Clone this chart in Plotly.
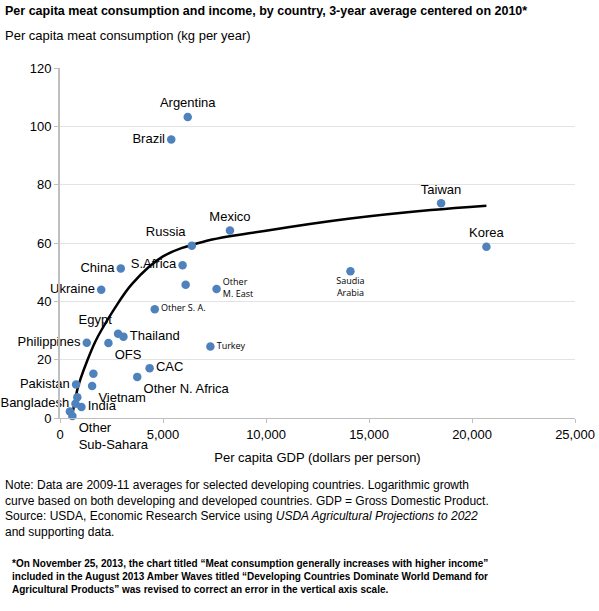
import plotly.graph_objects as go

# country scatter data (GDP per capita, meat kg per capita)
countries = ["Argentina", "Brazil", "Taiwan", "Korea", "Mexico", "Russia", "China",
             "S.Africa", "", "Other<br>M. East", "Saudia<br>Arabia", "Ukraine",
             "Other S. A.", "Egypt", "Thailand", "Philippines", "OFS", "Turkey", "CAC",
             "Other N. Africa", "", "Vietnam", "Pakistan", "", "Bangladesh", "India",
             "", "Other<br>Sub-Sahara"]
gdp = [6200, 5400, 18500, 20700, 8250, 6400, 2950, 5950, 6100, 7600, 14100, 2000,
       4600, 2820, 3080, 1300, 2350, 7300, 4350, 3750, 1620, 1560, 780, 840, 750,
       1040, 480, 600]
meat = [103.2, 95.5, 73.6, 58.7, 64.3, 59.1, 51.3, 52.4, 45.7, 44.2, 50.3, 44.0,
        37.3, 28.9, 27.9, 25.8, 25.7, 24.5, 17.1, 14.1, 15.2, 11.0, 11.5, 7.1, 4.9,
        3.8, 2.2, 0.7]
positions = ["top center", "middle left", "top center", "top center", "top center",
             "top left", "middle left", "middle left", "middle right", "middle right",
             "bottom center", "middle left", "middle right", "top left", "middle right",
             "middle left", "bottom right", "middle right", "middle right", "bottom right",
             "middle right", "bottom right", "middle left", "bottom right", "middle left",
             "middle right", "middle right", "bottom right"]
small = {"Other<br>M. East", "Saudia<br>Arabia", "Other S. A.", "Turkey"}

# fitted growth curve
curve_x = [570, 700, 850, 1000, 1340, 1700, 2000, 2600, 3500, 5000, 7000, 10000,
           14000, 18000, 20700]
curve_y = [0, 5, 10, 13.5, 20, 26, 30, 37, 46, 55.4, 60.5, 64.2, 68.3, 71.3, 72.8]

fig = go.Figure()
fig.add_trace(go.Scatter(x=curve_x, y=curve_y, mode="lines", line_shape="spline",
                         line=dict(color="black", width=2.5), hoverinfo="skip"))

for is_small in (False, True):
    idx = [i for i, c in enumerate(countries) if (c in small) == is_small]
    fig.add_trace(go.Scatter(
        x=[gdp[i] for i in idx], y=[meat[i] for i in idx],
        text=[countries[i] for i in idx],
        textposition=[positions[i] for i in idx],
        mode="markers+text",
        marker=dict(color="#4f81bd", size=8.5),
        textfont=dict(family="Open Sans, sans-serif" if is_small else "Liberation Sans, Arial",
                      size=9 if is_small else 13, color="black"),
        cliponaxis=False,
    ))

fig.update_layout(
    width=599, height=611, showlegend=False,
    plot_bgcolor="white", paper_bgcolor="white",
    font=dict(family="Liberation Sans, Arial, sans-serif", size=13, color="black"),
    margin=dict(l=60, r=24, t=68, b=193, autoexpand=False),
)
fig.update_xaxes(range=[0, 25000], dtick=5000, tickformat=",d", showgrid=False,
                 showline=True, linecolor="#bfbfbf", ticks="outside", ticklen=4,
                 tickcolor="#bfbfbf", zeroline=False, automargin=False,
                 title=dict(text="Per capita GDP (dollars per person)", standoff=12,
                            font=dict(size=13)))
fig.update_yaxes(range=[0, 120], dtick=20, showgrid=True, gridcolor="#e3e3e3",
                 showline=True, linecolor="#bfbfbf", linewidth=2, ticks="outside",
                 ticklen=4, tickcolor="#bfbfbf", zeroline=False, automargin=False)

fig.add_annotation(xref="paper", yref="paper", x=-0.11, y=1.19, xanchor="left", yanchor="top",
                   showarrow=False, font=dict(size=12.5),
                   text="<b>Per capita meat consumption and income, by country, 3-year average centered on 2010*</b>")
fig.add_annotation(xref="paper", yref="paper", x=-0.11, y=1.12, xanchor="left", yanchor="top",
                   showarrow=False, font=dict(size=13),
                   text="Per capita meat consumption (kg per year)")
fig.add_annotation(xref="paper", yref="paper", x=-0.11, y=-0.165, xanchor="left", yanchor="top",
                   showarrow=False, align="left", font=dict(size=12),
                   text="Note: Data are 2009-11 averages for selected developing countries. Logarithmic growth<br>"
                        "curve based on both developing and developed countries. GDP = Gross Domestic Product.<br>"
                        "Source: USDA, Economic Research Service using <i>USDA Agricultural Projections to 2022</i><br>"
                        "and supporting data.")
fig.add_annotation(xref="paper", yref="paper", x=-0.097, y=-0.395, xanchor="left", yanchor="top",
                   showarrow=False, align="left", font=dict(size=10),
                   text="<b>*On November 25, 2013, the chart titled “Meat consumption generally increases with higher income”<br>"
                        "included in the August 2013 Amber Waves titled “Developing Countries Dominate World Demand for<br>"
                        "Agricultural Products” was revised to correct an error in the vertical axis scale.</b>")

# drop the default page margin so the figure sits at the top-left corner
fig.write_html("out.html", config={"displayModeBar": False},
               post_script="document.body.style.margin='0';")
